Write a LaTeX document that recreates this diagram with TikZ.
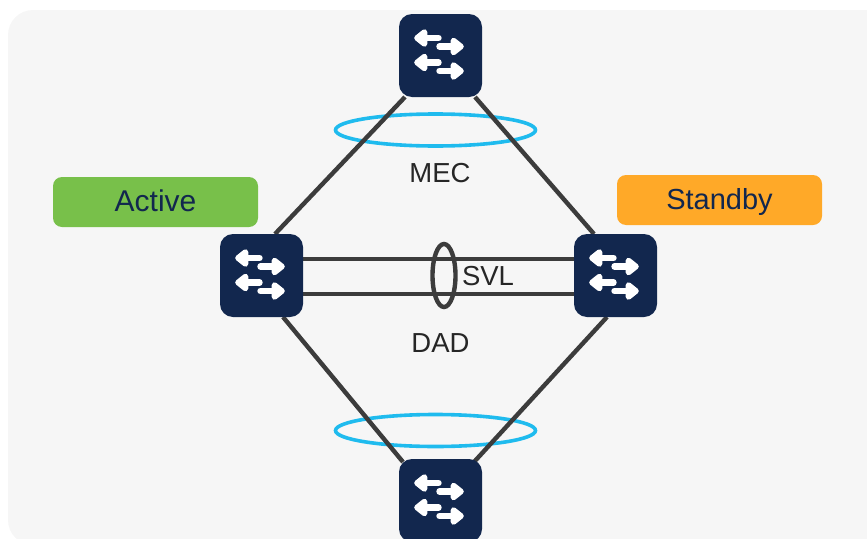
\documentclass[tikz,border=0pt]{standalone}
\usepackage{fontspec}
\setmainfont{Liberation Sans}
\usetikzlibrary{calc,shapes.geometric,backgrounds}
\definecolor{panel}{HTML}{F6F6F6}
\definecolor{navy}{HTML}{12274E}
\definecolor{link}{HTML}{3C3C3C}
\definecolor{ringblue}{HTML}{1FBBEE}
\definecolor{activegreen}{HTML}{78C04A}
\definecolor{standbyorange}{HTML}{FFA928}
\tikzset{
  switchbox/.style={fill=navy,draw=none,minimum width=83pt,minimum height=83pt,rounded corners=13pt,inner sep=0pt,outer sep=0pt},
  linkline/.style={draw=link,line width=4.4pt},
  ringline/.style={draw=ringblue,line width=3.6pt,ellipse,inner sep=0pt,outer sep=0pt},
  ringdark/.style={draw=link,line width=4.4pt,ellipse,inner sep=0pt,outer sep=0pt},
  statebox/.style={minimum width=205pt,minimum height=50pt,rounded corners=9pt,inner sep=0pt,text=navy,text height=18pt,text depth=0pt},
  plainlabel/.style={inner sep=0pt,text=black!85,font=\fontsize{27.5}{32}\selectfont},
  arrowglyph/.style={draw=white,fill=white,line width=6.4pt,line cap=round,line join=round},
  arrowhead/.style={draw=white,fill=white,line width=5.6pt,line join=round}
}
\newcommand{\switchnode}[2]{%
  \node[switchbox] (#1) at (#2) {};
  \begin{scope}[shift={(#2)}]
    \draw[arrowglyph] (-20,-17.5) -- (-2,-17.5);
    \filldraw[arrowhead] (-23.5,-17.5) -- (-16,-23.5) -- (-16,-11.5) -- cycle;
    \draw[arrowglyph] (-1,-9) -- (17,-9);
    \filldraw[arrowhead] (20.5,-9) -- (13,-15) -- (13,-3) -- cycle;
    \draw[arrowglyph] (-20,7) -- (-2,7);
    \filldraw[arrowhead] (-23.5,7) -- (-16,1) -- (-16,13) -- cycle;
    \draw[arrowglyph] (-1,15.5) -- (17,15.5);
    \filldraw[arrowhead] (20.5,15.5) -- (13,9.5) -- (13,21.5) -- cycle;
  \end{scope}}
\begin{document}
\begin{tikzpicture}[x=1pt,y=-1pt]
\useasboundingbox (0,0) rectangle (867,538);
\clip (0,0) rectangle (867,538);
% switches
\switchnode{top}{440.5,55.5}
\switchnode{left}{261.5,275.5}
\switchnode{right}{615.5,275.5}
\switchnode{bottom}{440.5,500.5}
\begin{scope}[on background layer]
\fill[panel,rounded corners=25pt] (8,10) rectangle (920,545);
% rings
\node[ringline,minimum width=200pt,minimum height=32pt] (mecring) at (435.5,130) {};
\node[ringline,minimum width=200pt,minimum height=32pt] (lowring) at (435.5,430.5) {};
\node[ringdark,minimum width=23pt,minimum height=63pt] (svlring) at (444,275.5) {};
% links
\draw[linkline] ([xshift=6pt]top.south west) -- ([xshift=55pt]left.north west);
\draw[linkline] ([xshift=-7pt]top.south east) -- ([xshift=20pt]right.north west);
\draw[linkline] ([xshift=63pt]left.south west) -- ([xshift=4pt,yshift=-3pt]bottom.north west);
\draw[linkline] ([xshift=33pt]right.south west) -- ([xshift=-8pt,yshift=-3pt]bottom.north east);
\draw[linkline] ([yshift=16.5pt]left.east) -- ([yshift=16.5pt]right.west);
\draw[linkline] ([yshift=-18.5pt]left.east) -- ([yshift=-18.5pt]right.west);
\end{scope}
% state labels
\node[statebox,fill=activegreen,font=\fontsize{30}{34}\selectfont] (active) at (155.5,202) {Active};
\node[statebox,fill=standbyorange,font=\fontsize{29}{34}\selectfont] (standby) at (719.5,200) {Standby};
\node[plainlabel] (mec) at (440,173) {MEC};
\node[plainlabel] (dad) at (440.5,343) {DAD};
\node[plainlabel] (svl) at (488,276) {SVL};
\end{tikzpicture}
\end{document}
